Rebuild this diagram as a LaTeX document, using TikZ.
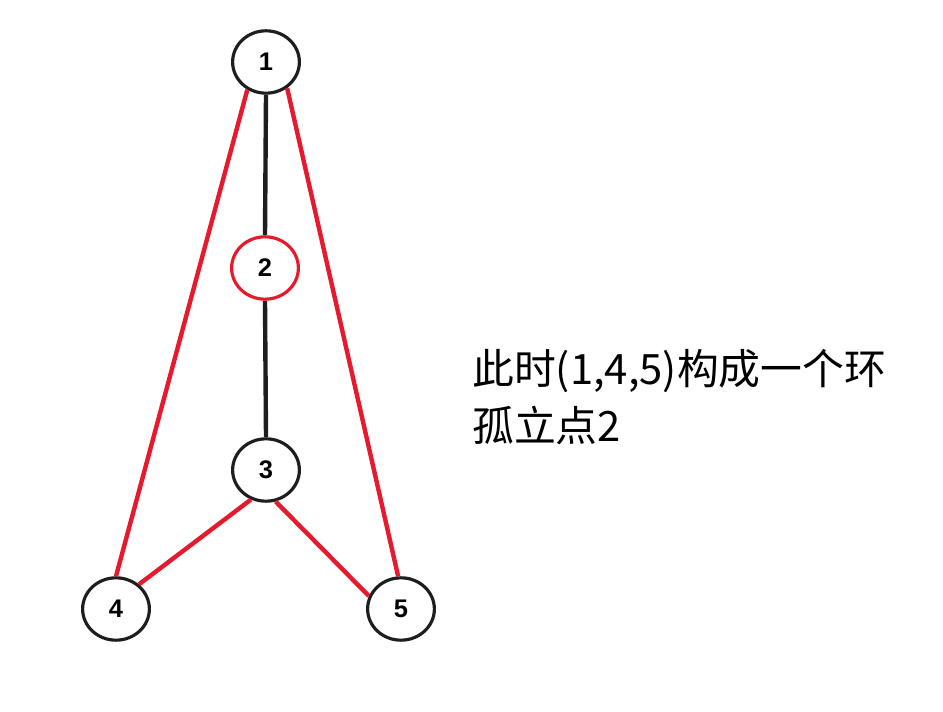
\documentclass[tikz,border=0pt]{standalone}
\usepackage{fontspec}
\setmainfont{Liberation Sans}
\newfontfamily\cjk{Noto Sans CJK SC}
\usetikzlibrary{shapes.geometric}
\definecolor{edgered}{RGB}{230,25,45}
\definecolor{inkblack}{RGB}{30,30,30}
\begin{document}
\begin{tikzpicture}[x=0.02cm, y=-0.02cm,
    vertex/.style={ellipse, draw=inkblack, line width=1.8pt, minimum width=38pt, minimum height=35.5pt,
        inner sep=0pt, font=\bfseries\fontsize{14.5pt}{14.5pt}\selectfont},
    blackedge/.style={draw=inkblack, line width=2.5pt},
    rededge/.style={draw=edgered, line width=2.5pt}]
    \useasboundingbox (0,0) rectangle (943,712);

    % Vertices
    \node[vertex] (n1) at (266,62) {1};
    \node[vertex, draw=edgered] (n2) at (265,268) {2};
    \node[vertex] (n3) at (266,470) {3};
    \node[vertex] (n4) at (116,609) {4};
    \node[vertex] (n5) at (401,609) {5};

    % Tree edges
    \draw[blackedge] (n1.south) -- (n2.north);
    \draw[blackedge] (n2.south) -- (n3.north);

    % Cycle edges
    \draw[rededge] (n1.236) -- (n4.north);
    \draw[rededge] (n1.309) -- (n5.95);
    \draw[rededge] (n3.243) -- (n4.47);
    \draw[rededge] (n3.287) -- (n5.158);

    % Note
    \node[anchor=north west, inner sep=0pt, align=left,
        font=\cjk\fontsize{23.8pt}{32.3pt}\selectfont] (note) at (472,349)
        {此时(1,4,5)构成一个环\\孤立点2};
\end{tikzpicture}
\end{document}
